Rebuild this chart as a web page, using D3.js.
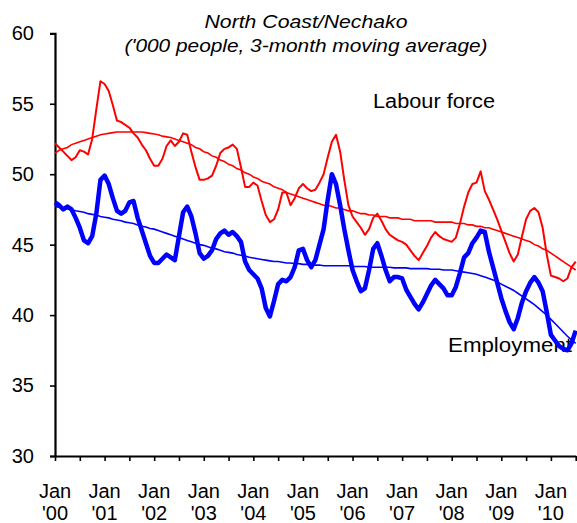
<!DOCTYPE html>
<html>
<head>
<meta charset="utf-8">
<script src="https://cdn.jsdelivr.net/npm/d3@7"></script>
<style>
  body { margin: 0; background: #fff; }
  text { font-family: "Liberation Sans", Arial, sans-serif; fill: #000; }
</style>
</head>
<body>
<div id="chart"></div>
<script>
// Monthly values, Jan 2000 .. Jul 2010 ('000 people, 3-month moving average)
let labourForce = [
  52.2, 51.9, 51.6, 51.3, 51.0, 51.2, 51.7, 51.6, 51.4, 52.5, 54.6, 56.6,
  56.4, 55.9, 54.9, 53.8, 53.7, 53.5, 53.3, 52.9, 52.6, 52.1, 51.7, 51.1,
  50.6, 50.6, 51.1, 52.0, 52.4, 52.0, 52.3, 52.9, 52.8, 51.6, 50.5, 49.6,
  49.6, 49.7, 49.9, 50.6, 51.5, 51.8, 51.9, 52.1, 51.8, 50.5, 49.1, 49.1,
  49.4, 49.2, 48.1, 47.1, 46.6, 46.8, 47.5, 48.7, 48.7, 47.8, 48.3, 49.0,
  49.3, 49.0, 48.8, 48.9, 49.4, 50.0, 51.2, 52.3, 52.8, 51.6, 49.6, 47.8,
  47.0, 46.6, 46.2, 45.7, 46.1, 46.9, 47.2, 46.7, 46.1, 45.7, 45.5, 45.3,
  45.2, 45.0, 44.6, 44.2, 43.9, 44.4, 44.9, 45.5, 45.9, 45.6, 45.4, 45.3,
  45.2, 45.5, 46.5, 47.7, 48.7, 49.3, 49.4, 50.2, 48.8, 48.2, 47.5, 46.8,
  46.0, 45.2, 44.4, 43.8, 44.3, 45.6, 46.8, 47.4, 47.6, 47.3, 46.2, 44.3,
  42.8, 42.7, 42.6, 42.4, 42.6, 43.4, 43.8
];

let labourTrend = [
  51.5, 51.7, 51.8, 51.9, 52.1, 52.2, 52.3, 52.4, 52.5, 52.6, 52.7, 52.8,
  52.85, 52.9, 52.95, 53.0, 53.0, 53.0, 53.0, 53.0, 53.0, 53.0, 52.95, 52.9,
  52.85, 52.8, 52.7, 52.65, 52.6, 52.5, 52.4, 52.3, 52.2, 52.1, 51.9, 51.8,
  51.6, 51.5, 51.3, 51.2, 51.0, 50.9, 50.7, 50.6, 50.4, 50.3, 50.1, 50.0,
  49.8, 49.7, 49.5, 49.4, 49.3, 49.1, 49.0, 48.9, 48.7, 48.6, 48.5, 48.4,
  48.3, 48.2, 48.1, 48.0, 47.9, 47.8, 47.8, 47.7, 47.6, 47.6, 47.5, 47.4,
  47.4, 47.3, 47.2, 47.2, 47.1, 47.1, 47.0, 47.0, 47.0, 46.9, 46.9, 46.9,
  46.8, 46.8, 46.8, 46.7, 46.7, 46.7, 46.7, 46.7, 46.6, 46.6, 46.6, 46.6,
  46.6, 46.5, 46.5, 46.5, 46.4, 46.4, 46.3, 46.3, 46.2, 46.2, 46.1, 46.0,
  45.9, 45.8, 45.7, 45.6, 45.5, 45.4, 45.3, 45.2, 45.0, 44.9, 44.7, 44.6,
  44.4, 44.2, 44.0, 43.8, 43.6, 43.4, 43.2
];

let employment = [
  48.0, 47.8, 47.5, 47.7, 47.5, 46.9, 46.2, 45.3, 45.1, 45.6, 47.2, 49.6,
  49.9, 49.3, 48.3, 47.4, 47.2, 47.4, 48.0, 48.1, 46.9, 46.0, 45.1, 44.2,
  43.7, 43.7, 44.0, 44.3, 44.1, 43.9, 45.6, 47.3, 47.7, 47.0, 45.8, 44.4,
  44.0, 44.2, 44.6, 45.4, 45.8, 46.0, 45.7, 45.9, 45.6, 45.2, 43.8, 43.2,
  42.9, 42.6, 41.9, 40.5, 39.9, 41.0, 42.2, 42.5, 42.4, 42.7, 43.4, 44.6,
  44.7, 43.9, 43.4, 43.9, 45.0, 46.1, 48.2, 50.0, 49.3, 47.8, 46.1, 44.6,
  43.2, 42.4, 41.7, 41.9, 43.2, 44.7, 45.1, 44.2, 43.2, 42.4, 42.7, 42.7,
  42.6, 41.8, 41.3, 40.8, 40.4, 40.9, 41.5, 42.1, 42.5, 42.2, 41.9, 41.4,
  41.4, 42.0, 43.0, 44.1, 44.4, 45.1, 45.5, 46.0, 45.9, 44.5, 43.4, 42.3,
  41.2, 40.3, 39.5, 39.0, 39.8, 40.9, 41.7, 42.3, 42.7, 42.3, 41.7, 40.2,
  38.6, 38.2, 37.8, 37.6, 37.5, 38.0, 38.9
];

let employmentTrend = [
  47.7, 47.65, 47.6, 47.55, 47.5, 47.4, 47.35, 47.3, 47.2, 47.15, 47.1, 47.0,
  46.95, 46.9, 46.8, 46.75, 46.7, 46.6, 46.55, 46.5, 46.4, 46.3, 46.25, 46.15,
  46.1, 46.0, 45.9, 45.8, 45.7, 45.6, 45.5, 45.4, 45.3, 45.2, 45.1, 45.0,
  44.95, 44.85, 44.75, 44.7, 44.6, 44.5, 44.45, 44.4, 44.3, 44.25, 44.2, 44.1,
  44.05, 44.0, 43.95, 43.9, 43.85, 43.8, 43.8, 43.75, 43.7, 43.7, 43.65, 43.65,
  43.6, 43.6, 43.55, 43.55, 43.55, 43.5, 43.5, 43.5, 43.5, 43.5, 43.5, 43.5,
  43.45, 43.45, 43.45, 43.45, 43.4, 43.4, 43.4, 43.4, 43.4, 43.4, 43.35, 43.35,
  43.35, 43.35, 43.3, 43.3, 43.3, 43.3, 43.3, 43.25, 43.25, 43.25, 43.2, 43.2,
  43.2, 43.15, 43.1, 43.05, 43.0, 42.95, 42.9, 42.8, 42.7, 42.6, 42.5, 42.35,
  42.2, 42.05, 41.9, 41.75, 41.55, 41.35, 41.15, 40.95, 40.75, 40.5, 40.25, 40.0,
  39.7, 39.4, 39.1, 38.8, 38.5, 38.25, 38.0
];

let yTicks = [30, 35, 40, 45, 50, 55, 60];
let yearLabels = ["'00", "'01", "'02", "'03", "'04", "'05", "'06", "'07", "'08", "'09", "'10"];

// chart size
let width = 577;
let height = 523;
let plotLeft = 55, plotRight = 575.7, plotTop = 33.3, plotBottom = 456;

let svg = d3.select("#chart")
  .append("svg")
  .attr("width", width)
  .attr("height", height);

let xScale = d3.scaleLinear().domain([0, 126]).range([plotLeft, plotRight]);
let yScale = d3.scaleLinear().domain([30, 60]).range([plotBottom, plotTop]);

// title
svg.append("text")
  .attr("x", 306).attr("y", 28)
  .attr("text-anchor", "middle")
  .style("font-size", "19px").style("font-style", "italic")
  .attr("textLength", 203).attr("lengthAdjust", "spacingAndGlyphs")
  .text("North Coast/Nechako");
svg.append("text")
  .attr("x", 306).attr("y", 52)
  .attr("text-anchor", "middle")
  .style("font-size", "19px").style("font-style", "italic")
  .attr("textLength", 363).attr("lengthAdjust", "spacingAndGlyphs")
  .text("('000 people, 3-month moving average)");

// series labels (lines are drawn over them)
svg.append("text")
  .attr("x", 373).attr("y", 108)
  .style("font-size", "20px")
  .attr("textLength", 122).attr("lengthAdjust", "spacingAndGlyphs")
  .text("Labour force");
svg.append("text")
  .attr("x", 448).attr("y", 351.5)
  .style("font-size", "20px")
  .attr("textLength", 124).attr("lengthAdjust", "spacingAndGlyphs")
  .text("Employment");

// y axis
let yAxis = d3.axisLeft(yScale)
  .tickValues(yTicks)
  .tickSize(5)
  .tickPadding(16);
let gy = svg.append("g")
  .attr("transform", "translate(" + plotLeft + ",0)")
  .call(yAxis);
gy.select(".domain").attr("stroke-width", 2.2);
gy.selectAll(".tick line").attr("stroke-width", 1.6);
gy.selectAll(".tick text")
  .style("font-size", "20px")
  .style("font-family", "'Liberation Sans', Arial, sans-serif");

// x axis, ticks every six months
let xAxis = d3.axisBottom(xScale)
  .tickValues(d3.range(0, 127, 6))
  .tickSize(5)
  .tickSizeOuter(0)
  .tickFormat("");
let gx = svg.append("g")
  .attr("transform", "translate(0," + plotBottom + ")")
  .call(xAxis);
gx.select(".domain").attr("stroke-width", 2.2);
gx.selectAll(".tick line").attr("stroke-width", 1.6);

let xLabels = svg.append("g").attr("class", "xLabels");
yearLabels.forEach(function(lab, i) {
  let t = xLabels.append("text")
    .attr("text-anchor", "middle")
    .style("font-size", "20px")
    .attr("x", xScale(i * 12))
    .attr("y", 498);
  t.append("tspan").attr("x", xScale(i * 12)).text("Jan");
  t.append("tspan").attr("x", xScale(i * 12)).attr("dy", 22).text(lab);
});

// lines
let line = d3.line()
  .x(function(d, i) { return xScale(i); })
  .y(function(d) { return yScale(d); });

svg.append("path").datum(labourTrend)
  .attr("fill", "none").attr("stroke", "#ff0000").attr("stroke-width", 1.6)
  .attr("d", line);
svg.append("path").datum(employmentTrend)
  .attr("fill", "none").attr("stroke", "#0000ff").attr("stroke-width", 1.6)
  .attr("d", line);
svg.append("path").datum(labourForce)
  .attr("fill", "none").attr("stroke", "#ff0000").attr("stroke-width", 2)
  .attr("stroke-linejoin", "round")
  .attr("d", line);
svg.append("path").datum(employment)
  .attr("fill", "none").attr("stroke", "#0000ff").attr("stroke-width", 4.5)
  .attr("stroke-linejoin", "round")
  .attr("d", line);
</script>
</body>
</html>
